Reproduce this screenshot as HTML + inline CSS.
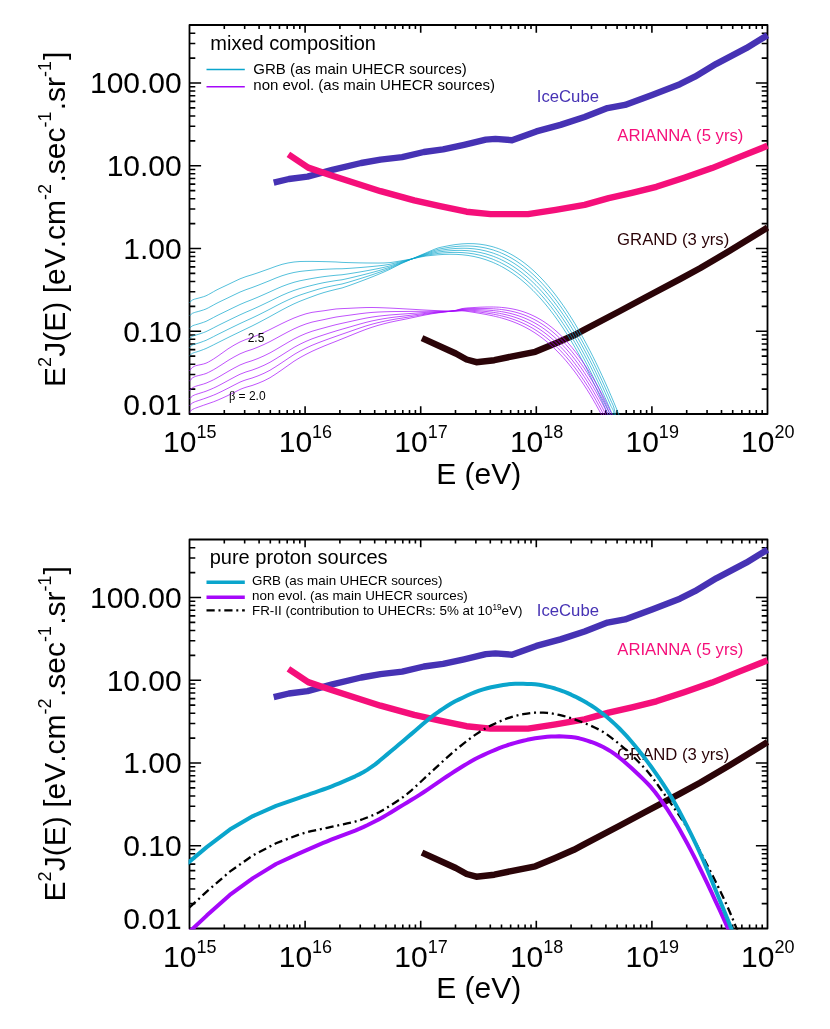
<!DOCTYPE html>
<html><head><meta charset="utf-8"><title>UHE neutrino fluxes</title>
<style>html,body{margin:0;padding:0;background:#fff}svg{display:block;will-change:transform}text{font-family:"Liberation Sans", sans-serif;font-kerning:none}</style>
</head><body>
<svg width="830" height="1029" viewBox="0 0 830 1029">
<rect width="830" height="1029" fill="#fff"/>
<defs><clipPath id="c1"><rect x="188.5" y="24" width="580" height="391"/></clipPath>
<clipPath id="c2"><rect x="188.5" y="538.5" width="580" height="391"/></clipPath></defs>
<path d="M224.3 414v-3.9M224.3 25v3.9M244.66 414v-3.9M244.66 25v3.9M259.1 414v-3.9M259.1 25v3.9M270.3 414v-3.9M270.3 25v3.9M279.45 414v-3.9M279.45 25v3.9M287.19 414v-3.9M287.19 25v3.9M293.9 414v-3.9M293.9 25v3.9M299.81 414v-3.9M299.81 25v3.9M305.1 414v-7.8M305.1 25v7.8M339.9 414v-3.9M339.9 25v3.9M360.26 414v-3.9M360.26 25v3.9M374.7 414v-3.9M374.7 25v3.9M385.9 414v-3.9M385.9 25v3.9M395.05 414v-3.9M395.05 25v3.9M402.79 414v-3.9M402.79 25v3.9M409.5 414v-3.9M409.5 25v3.9M415.41 414v-3.9M415.41 25v3.9M420.7 414v-7.8M420.7 25v7.8M455.5 414v-3.9M455.5 25v3.9M475.86 414v-3.9M475.86 25v3.9M490.3 414v-3.9M490.3 25v3.9M501.5 414v-3.9M501.5 25v3.9M510.65 414v-3.9M510.65 25v3.9M518.39 414v-3.9M518.39 25v3.9M525.1 414v-3.9M525.1 25v3.9M531.01 414v-3.9M531.01 25v3.9M536.3 414v-7.8M536.3 25v7.8M571.1 414v-3.9M571.1 25v3.9M591.46 414v-3.9M591.46 25v3.9M605.9 414v-3.9M605.9 25v3.9M617.1 414v-3.9M617.1 25v3.9M626.25 414v-3.9M626.25 25v3.9M633.99 414v-3.9M633.99 25v3.9M640.7 414v-3.9M640.7 25v3.9M646.61 414v-3.9M646.61 25v3.9M651.9 414v-7.8M651.9 25v7.8M686.7 414v-3.9M686.7 25v3.9M707.06 414v-3.9M707.06 25v3.9M721.5 414v-3.9M721.5 25v3.9M732.7 414v-3.9M732.7 25v3.9M741.85 414v-3.9M741.85 25v3.9M749.59 414v-3.9M749.59 25v3.9M756.3 414v-3.9M756.3 25v3.9M762.21 414v-3.9M762.21 25v3.9M189.5 389.09h5.8M767.5 389.09h-5.8M189.5 374.52h5.8M767.5 374.52h-5.8M189.5 364.18h5.8M767.5 364.18h-5.8M189.5 356.16h5.8M767.5 356.16h-5.8M189.5 349.61h5.8M767.5 349.61h-5.8M189.5 344.07h5.8M767.5 344.07h-5.8M189.5 339.27h5.8M767.5 339.27h-5.8M189.5 335.04h5.8M767.5 335.04h-5.8M189.5 331.25h11.6M767.5 331.25h-11.6M189.5 306.34h5.8M767.5 306.34h-5.8M189.5 291.77h5.8M767.5 291.77h-5.8M189.5 281.43h5.8M767.5 281.43h-5.8M189.5 273.41h5.8M767.5 273.41h-5.8M189.5 266.86h5.8M767.5 266.86h-5.8M189.5 261.32h5.8M767.5 261.32h-5.8M189.5 256.52h5.8M767.5 256.52h-5.8M189.5 252.29h5.8M767.5 252.29h-5.8M189.5 248.5h11.6M767.5 248.5h-11.6M189.5 223.59h5.8M767.5 223.59h-5.8M189.5 209.02h5.8M767.5 209.02h-5.8M189.5 198.68h5.8M767.5 198.68h-5.8M189.5 190.66h5.8M767.5 190.66h-5.8M189.5 184.11h5.8M767.5 184.11h-5.8M189.5 178.57h5.8M767.5 178.57h-5.8M189.5 173.77h5.8M767.5 173.77h-5.8M189.5 169.54h5.8M767.5 169.54h-5.8M189.5 165.75h11.6M767.5 165.75h-11.6M189.5 140.84h5.8M767.5 140.84h-5.8M189.5 126.27h5.8M767.5 126.27h-5.8M189.5 115.93h5.8M767.5 115.93h-5.8M189.5 107.91h5.8M767.5 107.91h-5.8M189.5 101.36h5.8M767.5 101.36h-5.8M189.5 95.82h5.8M767.5 95.82h-5.8M189.5 91.02h5.8M767.5 91.02h-5.8M189.5 86.79h5.8M767.5 86.79h-5.8M189.5 83h11.6M767.5 83h-11.6M189.5 58.09h5.8M767.5 58.09h-5.8M189.5 43.52h5.8M767.5 43.52h-5.8M189.5 33.18h5.8M767.5 33.18h-5.8" stroke="#000" stroke-width="1.6" fill="none"/>
<rect x="189.5" y="25" width="578" height="389" fill="none" stroke="#000" stroke-width="1.8" stroke-linejoin="round"/>
<text transform="translate(181.7 93.3) scale(1 1.0005)" text-anchor="end" font-size="30">100.00</text>
<text transform="translate(181.7 176.05) scale(1 1.0005)" text-anchor="end" font-size="30">10.00</text>
<text transform="translate(181.7 258.8) scale(1 1.0005)" text-anchor="end" font-size="30">1.00</text>
<text transform="translate(181.7 341.55) scale(1 1.0005)" text-anchor="end" font-size="30">0.10</text>
<text transform="translate(181.7 414.5) scale(1 1.0005)" text-anchor="end" font-size="30">0.01</text>
<text transform="translate(189.8 452.1) scale(1 1.0005)" text-anchor="middle" font-size="30">10<tspan font-size="18" dy="-14">15</tspan></text>
<text transform="translate(305.4 452.1) scale(1 1.0005)" text-anchor="middle" font-size="30">10<tspan font-size="18" dy="-14">16</tspan></text>
<text transform="translate(421 452.1) scale(1 1.0005)" text-anchor="middle" font-size="30">10<tspan font-size="18" dy="-14">17</tspan></text>
<text transform="translate(536.6 452.1) scale(1 1.0005)" text-anchor="middle" font-size="30">10<tspan font-size="18" dy="-14">18</tspan></text>
<text transform="translate(652.2 452.1) scale(1 1.0005)" text-anchor="middle" font-size="30">10<tspan font-size="18" dy="-14">19</tspan></text>
<text transform="translate(767.8 452.1) scale(1 1.0005)" text-anchor="middle" font-size="30">10<tspan font-size="18" dy="-14">20</tspan></text>
<text transform="translate(478.7 483.7) scale(1 1.0005)" text-anchor="middle" font-size="30">E (eV)</text>
<text transform="translate(64.8 387) rotate(-90) scale(1 1.0005)" font-size="30">E<tspan font-size="18" dy="-14">2</tspan><tspan dy="14" dx="0.3">J(E) [eV.cm</tspan><tspan font-size="18" dy="-14">-2</tspan><tspan dy="14" dx="1.5">.sec</tspan><tspan font-size="18" dy="-14">-1</tspan><tspan dy="14" dx="1.2">.sr</tspan><tspan font-size="18" dy="-14">-1</tspan><tspan dy="14" dx="1">]</tspan></text>
<path d="M273.7 182.6 L288.9 179 L307.5 176.6 L332.3 169.8 L361.2 163 L380.5 159.6 L402.2 157.1 L423.9 152 L443.1 149.4 L464.1 144.8 L485.8 139.6 L495.4 138.9 L512 140.2 L536.4 131.4 L560.5 124.9 L584.6 117 L607.5 108.1 L625 104.9 L652.1 94.9 L679.9 84.2 L694.9 76.7 L716.3 63.8 L746.2 48.2 L767.5 35.2" stroke="#4632b4" stroke-width="6.4" fill="none" stroke-linejoin="round"/>
<path d="M288.4 154.4 L308.2 167.6 L332.3 175.8 L356.4 183.5 L380.5 191.2 L414.2 200.4 L440 206.1 L466.5 211.7 L490.6 214.1 L528 214.1 L555.7 209.8 L584.6 204.9 L608.7 198.2 L632 192.8 L656.4 186.8 L684.2 177.7 L712 168.1 L739.8 156.9 L767.5 145.8" stroke="#f50f7a" stroke-width="6.4" fill="none" stroke-linejoin="round"/>
<path d="M422 338.1 L455.8 353.5 L466.6 359.5 L476.3 362.2 L494.3 360.2 L511.2 356.6 L535.3 351.8 L554.6 343.8 L573.9 335.3 L583.6 330.2 L620 311 L644.3 298 L680 279.1 L700 268.3 L729.7 250.8 L767.5 227.6" stroke="#2b0408" stroke-width="6.4" fill="none" stroke-linejoin="round"/>
<g clip-path="url(#c1)">
<path d="M189.5 302.6 C189.75 302.35 190.48 301.57 191 301.12 C191.52 300.67 192.02 300.22 192.6 299.9 C193.18 299.58 193.77 299.41 194.5 299.18 C195.23 298.95 195.92 298.79 197 298.5 C198.08 298.21 199.5 297.9 201 297.45 C202.5 297 204.33 296.52 206 295.8 C207.67 295.08 209.33 294.06 211 293.15 C212.67 292.24 214.17 291.27 216 290.31 C217.83 289.35 220 288.33 222 287.37 C224 286.41 226 285.52 228 284.56 C230 283.61 232 282.61 234 281.66 C236 280.7 238 279.68 240 278.83 C242 277.99 244 277.26 246 276.58 C248 275.91 250 275.4 252 274.76 C254 274.12 256 273.45 258 272.77 C260 272.08 262 271.34 264 270.63 C266 269.92 268 269.23 270 268.5 C272 267.78 274 266.98 276 266.29 C278 265.6 280 264.91 282 264.35 C284 263.8 286 263.36 288 262.97 C290 262.58 292 262.25 294 262.01 C296 261.76 298 261.6 300 261.5 C302 261.4 304 261.43 306 261.41 C308 261.39 310 261.38 312 261.4 C314 261.41 316 261.45 318 261.49 C320 261.52 322 261.57 324 261.62 C326 261.67 328 261.72 330 261.78 C332 261.84 334 261.88 336 261.98 C338 262.08 340 262.27 342 262.38 C344 262.48 346 262.53 348 262.59 C350 262.65 352 262.7 354 262.74 C356 262.79 358 262.84 360 262.88 C362 262.91 364 262.95 366 262.97 C368 263 370 263.01 372 263.02 C374 263.04 376 263.06 378 263.05 C380 263.04 382 263.04 384 262.97 C386 262.9 388 262.83 390 262.62 C392 262.41 394 262.04 396 261.72 C398 261.4 400 261.02 402 260.67 C404 260.33 406 260.01 408 259.65 C410 259.28 412 258.91 414 258.48 C416 258.06 418 257.52 420 257.11 C422 256.7 424 256.31 426 256.02 C428 255.73 430 255.57 432 255.36 C434 255.16 436 254.95 438 254.79 C440 254.64 442 254.51 444 254.42 C446 254.33 448 254.27 450 254.25 C452 254.24 454 254.27 456 254.35 C458 254.43 460 254.56 462 254.74 C464 254.92 466 255.15 468 255.45 C470 255.74 472 256.09 474 256.5 C476 256.92 478 257.39 480 257.93 C482 258.48 484 259.08 486 259.76 C488 260.44 490 261.19 492 262.01 C494 262.84 496.67 264.1 498 264.71 C499.33 265.33 499.17 265.28 500 265.72 C500.83 266.15 502 266.77 503 267.32 C504 267.88 505 268.45 506 269.05 C507 269.65 508 270.26 509 270.9 C510 271.54 511 272.2 512 272.88 C513 273.56 514 274.26 515 274.99 C516 275.71 517 276.46 518 277.23 C519 278 520 278.79 521 279.6 C522 280.41 523 281.25 524 282.11 C525 282.97 526 283.85 527 284.76 C528 285.66 529 286.59 530 287.55 C531 288.5 532 289.48 533 290.48 C534 291.48 535 292.5 536 293.55 C537 294.6 538 295.68 539 296.78 C540 297.87 541 299 542 300.15 C543 301.29 544 302.47 545 303.67 C546 304.86 547 306.09 548 307.34 C549 308.59 550 309.86 551 311.16 C552 312.46 553 313.79 554 315.14 C555 316.49 556 317.87 557 319.28 C558 320.68 559 322.11 560 323.57 C561 325.03 562 326.51 563 328.02 C564 329.53 565 331.07 566 332.64 C567 334.2 568 335.79 569 337.41 C570 339.03 571 340.67 572 342.35 C573 344.02 574 345.72 575 347.45 C576 349.17 577 350.93 578 352.71 C579 354.49 580 356.3 581 358.14 C582 359.98 583 361.84 584 363.74 C585 365.63 586 367.55 587 369.5 C588 371.45 589 373.43 590 375.43 C591 377.44 592 379.47 593 381.53 C594 383.59 595 385.68 596 387.8 C597 389.92 598 392.06 599 394.24 C600 396.41 601 398.62 602 400.85 C603 403.08 604 405.34 605 407.63 C606 409.91 607 412.23 608 414.58 C609 416.92 610 419.29 611 421.7 C612 424.1 613.5 427.78 614 429" stroke="#0aa5cc" stroke-width="0.7" fill="none"/>
<path d="M189.5 315.88 C189.75 315.63 190.48 314.87 191 314.43 C191.52 313.99 192.02 313.54 192.6 313.22 C193.18 312.91 193.77 312.75 194.5 312.52 C195.23 312.29 195.92 312.13 197 311.82 C198.08 311.52 199.5 311.17 201 310.7 C202.5 310.22 204.33 309.69 206 308.98 C207.67 308.26 209.33 307.28 211 306.39 C212.67 305.5 214.17 304.59 216 303.63 C217.83 302.68 220 301.65 222 300.68 C224 299.71 226 298.78 228 297.82 C230 296.86 232 295.87 234 294.91 C236 293.95 238 292.94 240 292.07 C242 291.19 244 290.41 246 289.66 C248 288.91 250 288.29 252 287.57 C254 286.84 256 286.09 258 285.31 C260 284.54 262 283.72 264 282.92 C266 282.12 268 281.33 270 280.51 C272 279.69 274 278.81 276 278.01 C278 277.22 280 276.42 282 275.74 C284 275.06 286 274.47 288 273.92 C290 273.38 292 272.88 294 272.46 C296 272.05 298 271.71 300 271.43 C302 271.15 304 270.98 306 270.78 C308 270.57 310 270.38 312 270.21 C314 270.03 316 269.87 318 269.73 C320 269.58 322 269.45 324 269.34 C326 269.23 328 269.14 330 269.05 C332 268.96 334 268.87 336 268.82 C338 268.77 340 268.84 342 268.77 C344 268.71 346 268.56 348 268.43 C350 268.3 352 268.15 354 268.01 C356 267.86 358 267.71 360 267.55 C362 267.39 364 267.23 366 267.06 C368 266.88 370 266.7 372 266.51 C374 266.32 376 266.13 378 265.91 C380 265.7 382 265.49 384 265.22 C386 264.95 388 264.68 390 264.29 C392 263.89 394 263.34 396 262.84 C398 262.35 400 261.82 402 261.32 C404 260.83 406 260.38 408 259.89 C410 259.4 412 258.91 414 258.39 C416 257.87 418 257.28 420 256.78 C422 256.28 424 255.8 426 255.39 C428 254.99 430 254.68 432 254.35 C434 254.02 436 253.68 438 253.43 C440 253.18 442 253.02 444 252.86 C446 252.71 448 252.57 450 252.49 C452 252.41 454 252.37 456 252.38 C458 252.39 460 252.45 462 252.57 C464 252.68 466 252.85 468 253.08 C470 253.31 472 253.59 474 253.94 C476 254.29 478 254.71 480 255.19 C482 255.67 484 256.22 486 256.84 C488 257.46 490 258.15 492 258.92 C494 259.69 496.67 260.88 498 261.46 C499.33 262.04 499.17 262 500 262.41 C500.83 262.82 502 263.41 503 263.94 C504 264.47 505 265.02 506 265.59 C507 266.16 508 266.75 509 267.37 C510 267.98 511 268.62 512 269.27 C513 269.93 514 270.61 515 271.31 C516 272.01 517 272.73 518 273.48 C519 274.23 520 275 521 275.79 C522 276.58 523 277.4 524 278.23 C525 279.07 526 279.93 527 280.82 C528 281.7 529 282.61 530 283.55 C531 284.48 532 285.44 533 286.42 C534 287.4 535 288.41 536 289.44 C537 290.47 538 291.52 539 292.6 C540 293.68 541 294.79 542 295.92 C543 297.05 544 298.21 545 299.39 C546 300.57 547 301.78 548 303.01 C549 304.24 550 305.5 551 306.78 C552 308.07 553 309.38 554 310.72 C555 312.05 556 313.42 557 314.81 C558 316.19 559 317.61 560 319.05 C561 320.5 562 321.97 563 323.46 C564 324.96 565 326.48 566 328.03 C567 329.58 568 331.16 569 332.76 C570 334.37 571 336 572 337.66 C573 339.32 574 341 575 342.72 C576 344.43 577 346.17 578 347.94 C579 349.71 580 351.51 581 353.33 C582 355.16 583 357.01 584 358.89 C585 360.77 586 362.68 587 364.62 C588 366.55 589 368.52 590 370.51 C591 372.5 592 374.52 593 376.57 C594 378.62 595 380.7 596 382.8 C597 384.91 598 387.04 599 389.2 C600 391.36 601 393.55 602 395.77 C603 397.99 604 400.24 605 402.51 C606 404.78 607 407.09 608 409.42 C609 411.75 610 414.11 611 416.5 C612 418.89 613 416.84 614 423.75 C615 430.67 616.5 452.3 617 458.01" stroke="#0aa5cc" stroke-width="0.7" fill="none"/>
<path d="M189.5 328.35 C189.75 328.12 190.48 327.37 191 326.93 C191.52 326.5 192.02 326.06 192.6 325.75 C193.18 325.44 193.77 325.29 194.5 325.06 C195.23 324.82 195.92 324.67 197 324.35 C198.08 324.03 199.5 323.64 201 323.15 C202.5 322.65 204.33 322.08 206 321.36 C207.67 320.64 209.33 319.71 211 318.84 C212.67 317.98 214.17 317.1 216 316.16 C217.83 315.21 220 314.16 222 313.19 C224 312.21 226 311.25 228 310.28 C230 309.31 232 308.33 234 307.37 C236 306.4 238 305.41 240 304.51 C242 303.6 244 302.76 246 301.95 C248 301.13 250 300.42 252 299.61 C254 298.8 256 297.97 258 297.11 C260 296.25 262 295.35 264 294.47 C266 293.58 268 292.7 270 291.8 C272 290.89 274 289.93 276 289.04 C278 288.14 280 287.25 282 286.45 C284 285.64 286 284.91 288 284.22 C290 283.52 292 282.87 294 282.29 C296 281.71 298 281.21 300 280.76 C302 280.31 304 279.96 306 279.58 C308 279.2 310 278.83 312 278.48 C314 278.13 316 277.79 318 277.47 C320 277.16 322 276.86 324 276.6 C326 276.33 328 276.11 330 275.89 C332 275.66 334 275.44 336 275.26 C338 275.07 340 275.01 342 274.78 C344 274.56 346 274.23 348 273.92 C350 273.62 352 273.28 354 272.95 C356 272.62 358 272.29 360 271.94 C362 271.6 364 271.25 366 270.89 C368 270.53 370 270.16 372 269.78 C374 269.4 376 269.02 378 268.61 C380 268.2 382 267.8 384 267.34 C386 266.88 388 266.42 390 265.85 C392 265.28 394 264.55 396 263.9 C398 263.25 400 262.56 402 261.94 C404 261.31 406 260.73 408 260.12 C410 259.52 412 258.92 414 258.3 C416 257.69 418 257.04 420 256.45 C422 255.86 424 255.28 426 254.77 C428 254.25 430 253.79 432 253.34 C434 252.89 436 252.4 438 252.06 C440 251.73 442 251.53 444 251.31 C446 251.08 448 250.87 450 250.72 C452 250.57 454 250.46 456 250.41 C458 250.35 460 250.34 462 250.39 C464 250.44 466 250.54 468 250.71 C470 250.87 472 251.09 474 251.38 C476 251.67 478 252.02 480 252.44 C482 252.87 484 253.35 486 253.92 C488 254.48 490 255.12 492 255.83 C494 256.54 496.67 257.66 498 258.2 C499.33 258.75 499.17 258.71 500 259.1 C500.83 259.49 502 260.05 503 260.55 C504 261.06 505 261.58 506 262.13 C507 262.67 508 263.24 509 263.83 C510 264.42 511 265.03 512 265.67 C513 266.3 514 266.95 515 267.63 C516 268.31 517 269.01 518 269.74 C519 270.46 520 271.21 521 271.98 C522 272.75 523 273.54 524 274.36 C525 275.17 526 276.02 527 276.88 C528 277.75 529 278.63 530 279.55 C531 280.46 532 281.4 533 282.36 C534 283.32 535 284.31 536 285.32 C537 286.33 538 287.37 539 288.43 C540 289.5 541 290.58 542 291.7 C543 292.81 544 293.95 545 295.11 C546 296.28 547 297.47 548 298.68 C549 299.9 550 301.14 551 302.41 C552 303.68 553 304.97 554 306.29 C555 307.61 556 308.96 557 310.33 C558 311.71 559 313.11 560 314.54 C561 315.96 562 317.42 563 318.9 C564 320.38 565 321.89 566 323.43 C567 324.96 568 326.53 569 328.12 C570 329.71 571 331.32 572 332.97 C573 334.62 574 336.29 575 337.99 C576 339.69 577 341.42 578 343.17 C579 344.93 580 346.71 581 348.53 C582 350.34 583 352.18 584 354.04 C585 355.91 586 357.81 587 359.73 C588 361.66 589 363.61 590 365.59 C591 367.57 592 369.57 593 371.61 C594 373.65 595 375.71 596 377.8 C597 379.89 598 382.01 599 384.16 C600 386.31 601 388.49 602 390.69 C603 392.9 604 395.13 605 397.39 C606 399.65 607 401.94 608 404.26 C609 406.58 610 408.93 611 411.3 C612 413.68 613 412.73 614 418.51 C615 424.3 616.5 441.43 617 446.01" stroke="#0aa5cc" stroke-width="0.7" fill="none"/>
<path d="M189.5 338.71 C189.75 338.48 190.48 337.74 191 337.31 C191.52 336.88 192.02 336.45 192.6 336.14 C193.18 335.84 193.77 335.69 194.5 335.46 C195.23 335.23 195.92 335.07 197 334.74 C198.08 334.41 199.5 333.99 201 333.48 C202.5 332.96 204.33 332.35 206 331.64 C207.67 330.92 209.33 330.02 211 329.17 C212.67 328.32 214.17 327.48 216 326.55 C217.83 325.61 220 324.55 222 323.56 C224 322.58 226 321.6 228 320.62 C230 319.65 232 318.67 234 317.7 C236 316.73 238 315.75 240 314.83 C242 313.9 244 313.02 246 312.15 C248 311.28 250 310.47 252 309.6 C254 308.72 256 307.82 258 306.9 C260 305.97 262 305.01 264 304.05 C266 303.1 268 302.14 270 301.17 C272 300.19 274 299.15 276 298.18 C278 297.21 280 296.23 282 295.33 C284 294.43 286 293.57 288 292.76 C290 291.95 292 291.15 294 290.44 C296 289.73 298 289.1 300 288.5 C302 287.91 304 287.41 306 286.89 C308 286.36 310 285.85 312 285.35 C314 284.86 316 284.36 318 283.9 C320 283.45 322 283.01 324 282.62 C326 282.23 328 281.9 330 281.56 C332 281.22 334 280.89 336 280.59 C338 280.3 340 280.13 342 279.77 C344 279.42 346 278.93 348 278.48 C350 278.03 352 277.54 354 277.06 C356 276.58 358 276.09 360 275.59 C362 275.09 364 274.59 366 274.08 C368 273.56 370 273.04 372 272.5 C374 271.96 376 271.41 378 270.85 C380 270.28 382 269.71 384 269.09 C386 268.48 388 267.87 390 267.15 C392 266.43 394 265.56 396 264.78 C398 263.99 400 263.19 402 262.44 C404 261.7 406 261.02 408 260.32 C410 259.61 412 258.91 414 258.21 C416 257.51 418 256.79 420 256.11 C422 255.44 424 254.77 426 254.14 C428 253.51 430 252.9 432 252.32 C434 251.75 436 251.13 438 250.7 C440 250.27 442 250.04 444 249.75 C446 249.46 448 249.18 450 248.96 C452 248.74 454 248.56 456 248.44 C458 248.31 460 248.24 462 248.22 C464 248.2 466 248.24 468 248.34 C470 248.44 472 248.6 474 248.82 C476 249.05 478 249.34 480 249.7 C482 250.06 484 250.49 486 251 C488 251.5 490 252.08 492 252.74 C494 253.4 496.67 254.44 498 254.95 C499.33 255.46 499.17 255.42 500 255.79 C500.83 256.16 502 256.69 503 257.17 C504 257.64 505 258.14 506 258.67 C507 259.19 508 259.73 509 260.3 C510 260.86 511 261.45 512 262.06 C513 262.67 514 263.3 515 263.96 C516 264.61 517 265.29 518 265.99 C519 266.69 520 267.42 521 268.16 C522 268.91 523 269.69 524 270.48 C525 271.28 526 272.1 527 272.94 C528 273.79 529 274.65 530 275.55 C531 276.44 532 277.36 533 278.3 C534 279.25 535 280.21 536 281.21 C537 282.2 538 283.22 539 284.26 C540 285.31 541 286.38 542 287.47 C543 288.57 544 289.69 545 290.83 C546 291.98 547 293.15 548 294.35 C549 295.55 550 296.78 551 298.03 C552 299.28 553 300.56 554 301.87 C555 303.17 556 304.5 557 305.86 C558 307.22 559 308.61 560 310.02 C561 311.43 562 312.87 563 314.34 C564 315.81 565 317.3 566 318.82 C567 320.34 568 321.89 569 323.47 C570 325.05 571 326.65 572 328.28 C573 329.91 574 331.57 575 333.26 C576 334.95 577 336.66 578 338.41 C579 340.15 580 341.92 581 343.72 C582 345.52 583 347.34 584 349.2 C585 351.05 586 352.94 587 354.85 C588 356.76 589 358.7 590 360.66 C591 362.63 592 364.63 593 366.65 C594 368.67 595 370.72 596 372.8 C597 374.88 598 376.99 599 379.13 C600 381.26 601 383.42 602 385.62 C603 387.81 604 390.03 605 392.28 C606 394.52 607 396.8 608 399.11 C609 401.41 610 403.74 611 406.1 C612 408.46 613 408.62 614 413.27 C615 417.92 616.5 430.56 617 434.02" stroke="#0aa5cc" stroke-width="0.7" fill="none"/>
<path d="M189.5 347.47 C189.75 347.24 190.48 346.51 191 346.09 C191.52 345.67 192.02 345.24 192.6 344.94 C193.18 344.63 193.77 344.5 194.5 344.26 C195.23 344.03 195.92 343.88 197 343.54 C198.08 343.2 199.5 342.75 201 342.22 C202.5 341.68 204.33 341.05 206 340.33 C207.67 339.61 209.33 338.75 211 337.91 C212.67 337.08 214.17 336.27 216 335.34 C217.83 334.41 220 333.34 222 332.35 C224 331.35 226 330.36 228 329.37 C230 328.39 232 327.41 234 326.45 C236 325.48 238 324.51 240 323.56 C242 322.62 244 321.69 246 320.78 C248 319.86 250 318.99 252 318.05 C254 317.12 256 316.16 258 315.18 C260 314.2 262 313.18 264 312.16 C266 311.15 268 310.13 270 309.09 C272 308.05 274 306.96 276 305.92 C278 304.88 280 303.83 282 302.84 C284 301.86 286 300.9 288 299.99 C290 299.07 292 298.17 294 297.34 C296 296.52 298 295.77 300 295.05 C302 294.34 304 293.72 306 293.07 C308 292.42 310 291.79 312 291.17 C314 290.55 316 289.92 318 289.34 C320 288.77 322 288.21 324 287.71 C326 287.22 328 286.79 330 286.36 C332 285.93 334 285.51 336 285.11 C338 284.72 340 284.46 342 283.99 C344 283.53 346 282.91 348 282.33 C350 281.76 352 281.14 354 280.53 C356 279.92 358 279.3 360 278.68 C362 278.05 364 277.42 366 276.77 C368 276.13 370 275.47 372 274.8 C374 274.13 376 273.44 378 272.74 C380 272.04 382 271.33 384 270.58 C386 269.83 388 269.09 390 268.25 C392 267.4 394 266.41 396 265.52 C398 264.62 400 263.71 402 262.87 C404 262.03 406 261.27 408 260.48 C410 259.69 412 258.9 414 258.12 C416 257.34 418 256.55 420 255.78 C422 255.02 424 254.26 426 253.51 C428 252.76 430 252.01 432 251.31 C434 250.61 436 249.85 438 249.34 C440 248.82 442 248.55 444 248.19 C446 247.84 448 247.48 450 247.19 C452 246.9 454 246.66 456 246.47 C458 246.28 460 246.13 462 246.05 C464 245.97 466 245.94 468 245.97 C470 246.01 472 246.1 474 246.26 C476 246.43 478 246.65 480 246.96 C482 247.26 484 247.63 486 248.07 C488 248.52 490 249.04 492 249.65 C494 250.25 496.67 251.22 498 251.69 C499.33 252.17 499.17 252.14 500 252.49 C500.83 252.83 502 253.33 503 253.78 C504 254.23 505 254.71 506 255.2 C507 255.7 508 256.22 509 256.76 C510 257.3 511 257.86 512 258.45 C513 259.04 514 259.65 515 260.28 C516 260.91 517 261.57 518 262.24 C519 262.92 520 263.63 521 264.35 C522 265.08 523 265.83 524 266.61 C525 267.38 526 268.18 527 269 C528 269.83 529 270.68 530 271.55 C531 272.42 532 273.32 533 274.24 C534 275.17 535 276.12 536 277.09 C537 278.07 538 279.07 539 280.09 C540 281.12 541 282.17 542 283.25 C543 284.32 544 285.43 545 286.56 C546 287.69 547 288.84 548 290.03 C549 291.21 550 292.42 551 293.65 C552 294.89 553 296.15 554 297.44 C555 298.73 556 300.05 557 301.39 C558 302.73 559 304.1 560 305.5 C561 306.9 562 308.33 563 309.78 C564 311.23 565 312.71 566 314.22 C567 315.73 568 317.26 569 318.82 C570 320.39 571 321.98 572 323.6 C573 325.21 574 326.86 575 328.53 C576 330.21 577 331.91 578 333.64 C579 335.37 580 337.13 581 338.91 C582 340.7 583 342.51 584 344.35 C585 346.2 586 348.06 587 349.96 C588 351.86 589 353.79 590 355.74 C591 357.7 592 359.68 593 361.69 C594 363.7 595 365.74 596 367.8 C597 369.87 598 371.96 599 374.09 C600 376.21 601 378.36 602 380.54 C603 382.72 604 384.93 605 387.16 C606 389.39 607 391.66 608 393.95 C609 396.24 610 398.56 611 400.9 C612 403.25 613 404.51 614 408.03 C615 411.55 616 418.71 617 422.03 C618 425.35 619.5 426.97 620 427.95" stroke="#0aa5cc" stroke-width="0.7" fill="none"/>
<path d="M189.5 355.7 C189.75 355.47 190.48 354.76 191 354.34 C191.52 353.92 192.02 353.5 192.6 353.2 C193.18 352.9 193.77 352.77 194.5 352.53 C195.23 352.3 195.92 352.15 197 351.8 C198.08 351.45 199.5 350.98 201 350.43 C202.5 349.88 204.33 349.22 206 348.5 C207.67 347.78 209.33 346.94 211 346.13 C212.67 345.31 214.17 344.52 216 343.6 C217.83 342.68 220 341.6 222 340.6 C224 339.6 226 338.58 228 337.59 C230 336.6 232 335.63 234 334.66 C236 333.69 238 332.73 240 331.77 C242 330.8 244 329.84 246 328.88 C248 327.92 250 326.98 252 326 C254 325.01 256 323.99 258 322.96 C260 321.92 262 320.85 264 319.78 C266 318.71 268 317.64 270 316.54 C272 315.44 274 314.29 276 313.19 C278 312.08 280 310.97 282 309.91 C284 308.84 286 307.79 288 306.78 C290 305.76 292 304.75 294 303.83 C296 302.9 298 302.03 300 301.21 C302 300.38 304 299.64 306 298.88 C308 298.11 310 297.36 312 296.63 C314 295.89 316 295.14 318 294.45 C320 293.76 322 293.09 324 292.5 C326 291.9 328 291.39 330 290.87 C332 290.35 334 289.84 336 289.36 C338 288.87 340 288.53 342 287.96 C344 287.39 346 286.65 348 285.96 C350 285.26 352 284.52 354 283.79 C356 283.06 358 282.32 360 281.57 C362 280.83 364 280.07 366 279.31 C368 278.54 370 277.76 372 276.96 C374 276.16 376 275.35 378 274.52 C380 273.69 382 272.85 384 271.97 C386 271.1 388 270.24 390 269.28 C392 268.32 394 267.21 396 266.21 C398 265.21 400 264.2 402 263.27 C404 262.34 406 261.5 408 260.63 C410 259.76 412 258.89 414 258.03 C416 257.17 418 256.31 420 255.45 C422 254.6 424 253.74 426 252.88 C428 252.02 430 251.11 432 250.3 C434 249.48 436 248.58 438 247.97 C440 247.36 442 247.06 444 246.64 C446 246.22 448 245.78 450 245.43 C452 245.07 454 244.75 456 244.49 C458 244.24 460 244.02 462 243.88 C464 243.73 466 243.63 468 243.6 C470 243.57 472 243.6 474 243.7 C476 243.81 478 243.97 480 244.21 C482 244.45 484 244.76 486 245.15 C488 245.54 490 246.01 492 246.55 C494 247.1 496.67 248 498 248.44 C499.33 248.87 499.17 248.85 500 249.18 C500.83 249.5 502 249.97 503 250.39 C504 250.82 505 251.27 506 251.74 C507 252.21 508 252.71 509 253.22 C510 253.74 511 254.28 512 254.84 C513 255.41 514 255.99 515 256.6 C516 257.21 517 257.84 518 258.5 C519 259.16 520 259.84 521 260.54 C522 261.25 523 261.98 524 262.73 C525 263.48 526 264.26 527 265.06 C528 265.87 529 266.7 530 267.55 C531 268.4 532 269.28 533 270.19 C534 271.09 535 272.02 536 272.98 C537 273.93 538 274.91 539 275.92 C540 276.93 541 277.96 542 279.02 C543 280.08 544 281.17 545 282.28 C546 283.39 547 284.53 548 285.7 C549 286.86 550 288.06 551 289.28 C552 290.5 553 291.74 554 293.02 C555 294.29 556 295.59 557 296.92 C558 298.25 559 299.6 560 300.99 C561 302.37 562 303.78 563 305.22 C564 306.66 565 308.12 566 309.61 C567 311.11 568 312.63 569 314.18 C570 315.73 571 317.3 572 318.91 C573 320.51 574 322.15 575 323.81 C576 325.47 577 327.15 578 328.87 C579 330.59 580 332.33 581 334.11 C582 335.88 583 337.68 584 339.51 C585 341.34 586 343.19 587 345.08 C588 346.96 589 348.88 590 350.82 C591 352.76 592 354.73 593 356.73 C594 358.72 595 360.75 596 362.8 C597 364.86 598 366.94 599 369.05 C600 371.16 601 373.3 602 375.46 C603 377.63 604 379.82 605 382.04 C606 384.27 607 386.51 608 388.79 C609 391.07 610 393.37 611 395.71 C612 398.04 613 400.4 614 402.79 C615 405.17 616 407.59 617 410.03 C618 412.48 619 414.94 620 417.44 C621 419.94 622.5 423.76 623 425.02" stroke="#0aa5cc" stroke-width="0.7" fill="none"/>
<path d="M189.5 370.9 C189.75 370.57 190.48 369.54 191 368.94 C191.52 368.34 192.02 367.75 192.6 367.3 C193.18 366.85 193.77 366.55 194.5 366.23 C195.23 365.92 195.92 365.67 197 365.4 C198.08 365.13 199.5 364.96 201 364.59 C202.5 364.22 204.33 363.87 206 363.2 C207.67 362.53 209.33 361.53 211 360.56 C212.67 359.6 214.17 358.62 216 357.39 C217.83 356.16 220 354.59 222 353.17 C224 351.75 226 350.21 228 348.88 C230 347.55 232 346.34 234 345.19 C236 344.03 238 342.91 240 341.95 C242 340.99 244 340.17 246 339.41 C248 338.65 250 338.14 252 337.42 C254 336.69 256 335.89 258 335.04 C260 334.2 262 333.28 264 332.36 C266 331.44 268 330.5 270 329.53 C272 328.55 274 327.5 276 326.49 C278 325.49 280 324.47 282 323.5 C284 322.52 286 321.57 288 320.66 C290 319.75 292 318.84 294 318.02 C296 317.2 298 316.44 300 315.74 C302 315.03 304 314.35 306 313.79 C308 313.23 310 312.74 312 312.37 C314 311.99 316 311.8 318 311.53 C320 311.26 322 311.04 324 310.75 C326 310.47 328 310.12 330 309.82 C332 309.52 334 309.17 336 308.97 C338 308.77 340 308.71 342 308.6 C344 308.5 346 308.45 348 308.36 C350 308.26 352 308.15 354 308.05 C356 307.95 358 307.85 360 307.77 C362 307.68 364 307.6 366 307.55 C368 307.51 370 307.48 372 307.49 C374 307.5 376 307.55 378 307.61 C380 307.67 382 307.76 384 307.84 C386 307.92 388 308 390 308.09 C392 308.18 394 308.28 396 308.38 C398 308.49 400 308.61 402 308.72 C404 308.83 406 308.94 408 309.05 C410 309.16 412 309.28 414 309.39 C416 309.51 418 309.63 420 309.75 C422 309.86 424 309.98 426 310.09 C428 310.2 430 310.3 432 310.4 C434 310.5 436 310.61 438 310.7 C440 310.8 442 310.9 444 310.98 C446 311.06 448 311.15 450 311.18 C452 311.21 454 311.2 456 311.15 C458 311.1 460 310.82 462 310.87 C464 310.93 466 311.22 468 311.47 C470 311.73 472 312.1 474 312.42 C476 312.74 478 313.06 480 313.4 C482 313.74 484 314.08 486 314.46 C488 314.84 490 315.23 492 315.66 C494 316.1 496.67 316.74 498 317.06 C499.33 317.38 499.17 317.35 500 317.58 C500.83 317.8 502 318.12 503 318.41 C504 318.7 505 319 506 319.32 C507 319.63 508 319.96 509 320.3 C510 320.64 511 321 512 321.37 C513 321.74 514 322.13 515 322.53 C516 322.93 517 323.35 518 323.78 C519 324.21 520 324.66 521 325.13 C522 325.6 523 326.09 524 326.59 C525 327.1 526 327.62 527 328.16 C528 328.71 529 329.27 530 329.85 C531 330.43 532 331.03 533 331.66 C534 332.28 535 332.93 536 333.59 C537 334.26 538 334.94 539 335.66 C540 336.37 541 337.1 542 337.85 C543 338.61 544 339.39 545 340.19 C546 341 547 341.82 548 342.67 C549 343.52 550 344.4 551 345.3 C552 346.2 553 347.13 554 348.08 C555 349.03 556 350.01 557 351.02 C558 352.02 559 353.05 560 354.11 C561 355.17 562 356.25 563 357.36 C564 358.48 565 359.61 566 360.78 C567 361.95 568 363.15 569 364.37 C570 365.6 571 366.85 572 368.13 C573 369.41 574 370.72 575 372.06 C576 373.41 577 374.78 578 376.18 C579 377.58 580 379.01 581 380.47 C582 381.93 583 383.42 584 384.94 C585 386.46 586 388.01 587 389.6 C588 391.18 589 392.79 590 394.44 C591 396.08 592 397.76 593 399.47 C594 401.18 595 402.92 596 404.69 C597 406.47 598 408.27 599 410.11 C600 411.94 601 413.81 602 415.72 C603 417.62 604 419.55 605 421.52 C606 423.49 607.5 426.52 608 427.52" stroke="#a508fa" stroke-width="0.7" fill="none"/>
<path d="M189.5 381.17 C189.75 380.87 190.48 379.91 191 379.35 C191.52 378.8 192.02 378.25 192.6 377.82 C193.18 377.4 193.77 377.12 194.5 376.8 C195.23 376.49 195.92 376.25 197 375.95 C198.08 375.65 199.5 375.39 201 374.98 C202.5 374.57 204.33 374.15 206 373.5 C207.67 372.85 209.33 371.97 211 371.09 C212.67 370.22 214.17 369.36 216 368.25 C217.83 367.14 220 365.73 222 364.44 C224 363.15 226 361.76 228 360.53 C230 359.29 232 358.12 234 357.01 C236 355.89 238 354.77 240 353.83 C242 352.89 244 352.1 246 351.37 C248 350.63 250 350.15 252 349.44 C254 348.73 256 347.95 258 347.12 C260 346.29 262 345.39 264 344.47 C266 343.54 268 342.59 270 341.57 C272 340.55 274 339.42 276 338.33 C278 337.25 280 336.13 282 335.06 C284 333.98 286 332.9 288 331.87 C290 330.83 292 329.77 294 328.83 C296 327.88 298 327.02 300 326.2 C302 325.38 304 324.61 306 323.93 C308 323.24 310 322.63 312 322.11 C314 321.59 316 321.23 318 320.81 C320 320.39 322 320 324 319.58 C326 319.16 328 318.7 330 318.28 C332 317.86 334 317.41 336 317.06 C338 316.71 340 316.46 342 316.18 C344 315.9 346 315.66 348 315.39 C350 315.12 352 314.82 354 314.55 C356 314.27 358 313.99 360 313.73 C362 313.48 364 313.21 366 313 C368 312.78 370 312.59 372 312.43 C374 312.27 376 312.16 378 312.06 C380 311.96 382 311.89 384 311.82 C386 311.75 388 311.68 390 311.64 C392 311.59 394 311.56 396 311.53 C398 311.51 400 311.51 402 311.49 C404 311.48 406 311.46 408 311.44 C410 311.42 412 311.4 414 311.38 C416 311.36 418 311.34 420 311.32 C422 311.31 424 311.29 426 311.28 C428 311.26 430 311.25 432 311.24 C434 311.24 436 311.25 438 311.25 C440 311.25 442 311.27 444 311.26 C446 311.26 448 311.27 450 311.22 C452 311.17 454 311.1 456 310.97 C458 310.83 460 310.46 462 310.42 C464 310.39 466 310.59 468 310.76 C470 310.93 472 311.21 474 311.44 C476 311.67 478 311.9 480 312.16 C482 312.41 484 312.67 486 312.97 C488 313.26 490 313.57 492 313.92 C494 314.28 496.67 314.82 498 315.08 C499.33 315.35 499.17 315.33 500 315.52 C500.83 315.71 502 315.99 503 316.24 C504 316.49 505 316.75 506 317.03 C507 317.31 508 317.6 509 317.9 C510 318.21 511 318.53 512 318.86 C513 319.2 514 319.54 515 319.91 C516 320.28 517 320.66 518 321.06 C519 321.46 520 321.87 521 322.31 C522 322.74 523 323.2 524 323.67 C525 324.14 526 324.63 527 325.14 C528 325.65 529 326.18 530 326.73 C531 327.28 532 327.85 533 328.45 C534 329.04 535 329.65 536 330.29 C537 330.93 538 331.59 539 332.27 C540 332.95 541 333.66 542 334.38 C543 335.11 544 335.87 545 336.64 C546 337.42 547 338.22 548 339.05 C549 339.87 550 340.72 551 341.6 C552 342.48 553 343.38 554 344.31 C555 345.24 556 346.2 557 347.18 C558 348.16 559 349.17 560 350.21 C561 351.25 562 352.31 563 353.4 C564 354.5 565 355.62 566 356.77 C567 357.92 568 359.1 569 360.31 C570 361.52 571 362.75 572 364.02 C573 365.29 574 366.59 575 367.91 C576 369.24 577 370.6 578 371.99 C579 373.38 580 374.79 581 376.25 C582 377.7 583 379.18 584 380.69 C585 382.2 586 383.75 587 385.32 C588 386.9 589 388.51 590 390.15 C591 391.79 592 393.46 593 395.17 C594 396.88 595 398.62 596 400.39 C597 402.16 598 403.96 599 405.8 C600 407.64 601 409.51 602 411.41 C603 413.32 604 415.26 605 417.23 C606 419.2 607 421.21 608 423.25 C609 425.29 610.5 428.43 611 429.47" stroke="#a508fa" stroke-width="0.7" fill="none"/>
<path d="M189.5 390.83 C189.75 390.55 190.48 389.67 191 389.15 C191.52 388.63 192.02 388.12 192.6 387.72 C193.18 387.32 193.77 387.05 194.5 386.74 C195.23 386.43 195.92 386.2 197 385.87 C198.08 385.54 199.5 385.2 201 384.75 C202.5 384.31 204.33 383.81 206 383.18 C207.67 382.55 209.33 381.78 211 380.99 C212.67 380.2 214.17 379.46 216 378.46 C217.83 377.47 220 376.2 222 375.03 C224 373.87 226 372.63 228 371.47 C230 370.32 232 369.2 234 368.12 C236 367.04 238 365.91 240 364.99 C242 364.07 244 363.31 246 362.6 C248 361.89 250 361.43 252 360.74 C254 360.06 256 359.28 258 358.47 C260 357.65 262 356.78 264 355.85 C266 354.93 268 353.96 270 352.89 C272 351.83 274 350.63 276 349.47 C278 348.3 280 347.1 282 345.92 C284 344.74 286 343.56 288 342.4 C290 341.25 292 340.05 294 338.99 C296 337.93 298 336.96 300 336.04 C302 335.11 304 334.25 306 333.45 C308 332.66 310 331.92 312 331.27 C314 330.61 316 330.09 318 329.53 C320 328.96 322 328.43 324 327.89 C326 327.34 328 326.78 330 326.24 C332 325.71 334 325.16 336 324.67 C338 324.18 340 323.74 342 323.3 C344 322.85 346 322.44 348 322 C350 321.56 352 321.1 354 320.66 C356 320.22 358 319.77 360 319.34 C362 318.92 364 318.5 366 318.12 C368 317.74 370 317.39 372 317.07 C374 316.76 376 316.49 378 316.24 C380 315.99 382 315.78 384 315.56 C386 315.35 388 315.15 390 314.97 C392 314.79 394 314.64 396 314.5 C398 314.35 400 314.23 402 314.1 C404 313.96 406 313.83 408 313.69 C410 313.55 412 313.39 414 313.25 C416 313.1 418 312.95 420 312.81 C422 312.66 424 312.52 426 312.39 C428 312.26 430 312.14 432 312.03 C434 311.93 436 311.85 438 311.76 C440 311.68 442 311.61 444 311.52 C446 311.44 448 311.38 450 311.26 C452 311.13 454 311 456 310.79 C458 310.57 460 310.1 462 309.97 C464 309.85 466 309.96 468 310.04 C470 310.12 472 310.31 474 310.46 C476 310.61 478 310.75 480 310.92 C482 311.09 484 311.26 486 311.47 C488 311.68 490 311.91 492 312.18 C494 312.46 496.67 312.89 498 313.1 C499.33 313.32 499.17 313.3 500 313.46 C500.83 313.63 502 313.85 503 314.07 C504 314.28 505 314.5 506 314.74 C507 314.98 508 315.24 509 315.5 C510 315.77 511 316.05 512 316.35 C513 316.65 514 316.96 515 317.29 C516 317.63 517 317.97 518 318.34 C519 318.7 520 319.08 521 319.48 C522 319.89 523 320.3 524 320.74 C525 321.18 526 321.64 527 322.12 C528 322.6 529 323.09 530 323.61 C531 324.13 532 324.67 533 325.24 C534 325.8 535 326.38 536 326.99 C537 327.6 538 328.23 539 328.88 C540 329.54 541 330.21 542 330.91 C543 331.62 544 332.34 545 333.09 C546 333.84 547 334.62 548 335.42 C549 336.22 550 337.05 551 337.9 C552 338.75 553 339.63 554 340.54 C555 341.45 556 342.38 557 343.34 C558 344.3 559 345.29 560 346.31 C561 347.33 562 348.37 563 349.45 C564 350.52 565 351.62 566 352.76 C567 353.89 568 355.05 569 356.24 C570 357.44 571 358.66 572 359.91 C573 361.16 574 362.45 575 363.76 C576 365.08 577 366.42 578 367.8 C579 369.18 580 370.58 581 372.02 C582 373.46 583 374.94 584 376.44 C585 377.95 586 379.48 587 381.05 C588 382.62 589 384.23 590 385.86 C591 387.5 592 389.17 593 390.87 C594 392.57 595 394.31 596 396.08 C597 397.85 598 399.65 599 401.49 C600 403.33 601 405.2 602 407.11 C603 409.02 604 410.96 605 412.94 C606 414.91 607 416.93 608 418.97 C609 421.02 610.5 424.18 611 425.22" stroke="#a508fa" stroke-width="0.7" fill="none"/>
<path d="M189.5 398.85 C189.75 398.59 190.48 397.76 191 397.27 C191.52 396.79 192.02 396.31 192.6 395.93 C193.18 395.55 193.77 395.29 194.5 394.98 C195.23 394.68 195.92 394.45 197 394.1 C198.08 393.74 199.5 393.34 201 392.86 C202.5 392.38 204.33 391.83 206 391.22 C207.67 390.61 209.33 389.92 211 389.2 C212.67 388.49 214.17 387.83 216 386.94 C217.83 386.04 220 384.89 222 383.83 C224 382.76 226 381.64 228 380.56 C230 379.48 232 378.39 234 377.34 C236 376.29 238 375.16 240 374.26 C242 373.36 244 372.62 246 371.93 C248 371.24 250 370.8 252 370.12 C254 369.45 256 368.69 258 367.89 C260 367.08 262 366.24 264 365.3 C266 364.37 268 363.39 270 362.29 C272 361.19 274 359.93 276 358.7 C278 357.48 280 356.2 282 354.94 C284 353.68 286 352.39 288 351.14 C290 349.89 292 348.58 294 347.42 C296 346.27 298 345.21 300 344.2 C302 343.19 304 342.25 306 341.36 C308 340.47 310 339.63 312 338.87 C314 338.1 316 337.44 318 336.76 C320 336.08 322 335.43 324 334.78 C326 334.12 328 333.48 330 332.84 C332 332.21 334 331.59 336 330.98 C338 330.37 340 329.79 342 329.2 C344 328.62 346 328.07 348 327.49 C350 326.91 352 326.31 354 325.73 C356 325.15 358 324.56 360 324 C362 323.44 364 322.88 366 322.36 C368 321.85 370 321.37 372 320.93 C374 320.49 376 320.09 378 319.71 C380 319.33 382 319 384 318.67 C386 318.34 388 318.02 390 317.73 C392 317.45 394 317.2 396 316.95 C398 316.71 400 316.5 402 316.26 C404 316.03 406 315.8 408 315.55 C410 315.31 412 315.05 414 314.79 C416 314.54 418 314.28 420 314.03 C422 313.79 424 313.54 426 313.32 C428 313.09 430 312.88 432 312.69 C434 312.5 436 312.35 438 312.19 C440 312.03 442 311.89 444 311.74 C446 311.59 448 311.48 450 311.29 C452 311.1 454 310.9 456 310.61 C458 310.31 460 309.74 462 309.52 C464 309.31 466 309.33 468 309.32 C470 309.31 472 309.42 474 309.48 C476 309.54 478 309.59 480 309.68 C482 309.76 484 309.85 486 309.98 C488 310.11 490 310.25 492 310.44 C494 310.64 496.67 310.96 498 311.12 C499.33 311.28 499.17 311.28 500 311.41 C500.83 311.54 502 311.72 503 311.89 C504 312.07 505 312.26 506 312.46 C507 312.66 508 312.87 509 313.11 C510 313.34 511 313.58 512 313.84 C513 314.11 514 314.38 515 314.68 C516 314.97 517 315.29 518 315.62 C519 315.95 520 316.29 521 316.66 C522 317.03 523 317.41 524 317.82 C525 318.22 526 318.65 527 319.1 C528 319.54 529 320.01 530 320.5 C531 320.99 532 321.5 533 322.03 C534 322.56 535 323.11 536 323.69 C537 324.27 538 324.87 539 325.5 C540 326.12 541 326.77 542 327.45 C543 328.12 544 328.82 545 329.54 C546 330.27 547 331.02 548 331.79 C549 332.57 550 333.37 551 334.2 C552 335.03 553 335.89 554 336.77 C555 337.65 556 338.56 557 339.5 C558 340.44 559 341.41 560 342.41 C561 343.41 562 344.43 563 345.49 C564 346.54 565 347.63 566 348.74 C567 349.86 568 351 569 352.18 C570 353.36 571 354.56 572 355.8 C573 357.04 574 358.31 575 359.61 C576 360.91 577 362.24 578 363.61 C579 364.98 580 366.37 581 367.8 C582 369.23 583 370.7 584 372.19 C585 373.69 586 375.22 587 376.78 C588 378.35 589 379.94 590 381.57 C591 383.21 592 384.87 593 386.57 C594 388.27 595 390 596 391.77 C597 393.54 598 395.35 599 397.19 C600 399.03 601 400.9 602 402.81 C603 404.72 604 406.67 605 408.65 C606 410.63 607 412.65 608 414.7 C609 416.75 610 416.85 611 420.97 C612 425.09 613.5 436.34 614 439.41" stroke="#a508fa" stroke-width="0.7" fill="none"/>
<path d="M189.5 405.63 C189.75 405.38 190.48 404.61 191 404.15 C191.52 403.69 192.02 403.24 192.6 402.87 C193.18 402.51 193.77 402.26 194.5 401.96 C195.23 401.66 195.92 401.43 197 401.06 C198.08 400.69 199.5 400.23 201 399.72 C202.5 399.21 204.33 398.61 206 398.01 C207.67 397.42 209.33 396.8 211 396.15 C212.67 395.5 214.17 394.92 216 394.11 C217.83 393.29 220 392.24 222 391.27 C224 390.29 226 389.27 228 388.25 C230 387.22 232 386.17 234 385.14 C236 384.12 238 382.99 240 382.1 C242 381.21 244 380.49 246 379.82 C248 379.14 250 378.72 252 378.06 C254 377.4 256 376.65 258 375.86 C260 375.06 262 374.23 264 373.3 C266 372.36 268 371.37 270 370.24 C272 369.11 274 367.8 276 366.52 C278 365.24 280 363.9 282 362.57 C284 361.24 286 359.87 288 358.54 C290 357.2 292 355.8 294 354.56 C296 353.32 298 352.19 300 351.1 C302 350.02 304 349.01 306 348.05 C308 347.08 310 346.16 312 345.3 C314 344.44 316 343.66 318 342.88 C320 342.1 322 341.35 324 340.61 C326 339.86 328 339.15 330 338.43 C332 337.72 334 337.03 336 336.32 C338 335.62 340 334.9 342 334.2 C344 333.5 346 332.83 348 332.13 C350 331.43 352 330.72 354 330.02 C356 329.32 358 328.62 360 327.94 C362 327.26 364 326.58 366 325.96 C368 325.33 370 324.74 372 324.19 C374 323.64 376 323.13 378 322.65 C380 322.16 382 321.73 384 321.3 C386 320.87 388 320.45 390 320.07 C392 319.7 394 319.36 396 319.03 C398 318.7 400 318.41 402 318.1 C404 317.78 406 317.46 408 317.13 C410 316.8 412 316.45 414 316.1 C416 315.76 418 315.41 420 315.08 C422 314.74 424 314.4 426 314.1 C428 313.8 430 313.5 432 313.25 C434 312.99 436 312.77 438 312.55 C440 312.33 442 312.13 444 311.93 C446 311.72 448 311.56 450 311.31 C452 311.06 454 310.8 456 310.43 C458 310.05 460 309.38 462 309.07 C464 308.77 466 308.7 468 308.6 C470 308.51 472 308.52 474 308.5 C476 308.47 478 308.44 480 308.44 C482 308.44 484 308.44 486 308.49 C488 308.53 490 308.6 492 308.71 C494 308.81 496.67 309.04 498 309.15 C499.33 309.25 499.17 309.25 500 309.35 C500.83 309.45 502 309.58 503 309.72 C504 309.86 505 310.01 506 310.17 C507 310.34 508 310.51 509 310.71 C510 310.9 511 311.11 512 311.34 C513 311.56 514 311.8 515 312.06 C516 312.32 517 312.6 518 312.89 C519 313.19 520 313.5 521 313.84 C522 314.17 523 314.52 524 314.89 C525 315.27 526 315.66 527 316.07 C528 316.49 529 316.92 530 317.38 C531 317.84 532 318.32 533 318.82 C534 319.32 535 319.84 536 320.39 C537 320.94 538 321.51 539 322.11 C540 322.71 541 323.33 542 323.98 C543 324.62 544 325.29 545 325.99 C546 326.69 547 327.41 548 328.17 C549 328.92 550 329.69 551 330.5 C552 331.3 553 332.14 554 333 C555 333.86 556 334.75 557 335.67 C558 336.59 559 337.53 560 338.51 C561 339.49 562 340.49 563 341.53 C564 342.57 565 343.63 566 344.73 C567 345.83 568 346.96 569 348.12 C570 349.28 571 350.47 572 351.69 C573 352.92 574 354.17 575 355.46 C576 356.75 577 358.07 578 359.42 C579 360.78 580 362.16 581 363.58 C582 365 583 366.46 584 367.95 C585 369.43 586 370.96 587 372.51 C588 374.07 589 375.66 590 377.29 C591 378.91 592 380.57 593 382.27 C594 383.97 595 385.7 596 387.47 C597 389.24 598 391.04 599 392.88 C600 394.72 601 396.6 602 398.51 C603 400.42 604 402.37 605 404.36 C606 406.34 607 408.37 608 410.43 C609 412.49 610 413.59 611 416.72 C612 419.85 613.5 427.13 614 429.21" stroke="#a508fa" stroke-width="0.7" fill="none"/>
<path d="M189.5 412 C189.75 411.77 190.48 411.04 191 410.61 C191.52 410.18 192.02 409.75 192.6 409.4 C193.18 409.05 193.77 408.81 194.5 408.51 C195.23 408.21 195.92 407.99 197 407.6 C198.08 407.21 199.5 406.7 201 406.16 C202.5 405.63 204.33 404.98 206 404.4 C207.67 403.82 209.33 403.27 211 402.68 C212.67 402.09 214.17 401.58 216 400.84 C217.83 400.1 220 399.15 222 398.25 C224 397.36 226 396.43 228 395.47 C230 394.5 232 393.47 234 392.47 C236 391.47 238 390.34 240 389.46 C242 388.59 244 387.89 246 387.23 C248 386.57 250 386.16 252 385.52 C254 384.87 256 384.13 258 383.34 C260 382.56 262 381.74 264 380.81 C266 379.87 268 378.86 270 377.71 C272 376.55 274 375.19 276 373.86 C278 372.53 280 371.13 282 369.74 C284 368.34 286 366.9 288 365.49 C290 364.07 292 362.58 294 361.26 C296 359.95 298 358.75 300 357.59 C302 356.43 304 355.37 306 354.33 C308 353.29 310 352.29 312 351.34 C314 350.39 316 349.51 318 348.63 C320 347.76 322 346.91 324 346.08 C326 345.26 328 344.47 330 343.68 C332 342.89 334 342.14 336 341.34 C338 340.54 340 339.71 342 338.9 C344 338.09 346 337.3 348 336.49 C350 335.68 352 334.86 354 334.05 C356 333.24 358 332.43 360 331.64 C362 330.85 364 330.07 366 329.34 C368 328.6 370 327.91 372 327.25 C374 326.6 376 325.98 378 325.4 C380 324.82 382 324.29 384 323.76 C386 323.24 388 322.73 390 322.27 C392 321.81 394 321.39 396 320.99 C398 320.58 400 320.21 402 319.82 C404 319.42 406 319.03 408 318.61 C410 318.2 412 317.76 414 317.33 C416 316.91 418 316.47 420 316.05 C422 315.64 424 315.22 426 314.84 C428 314.46 430 314.09 432 313.77 C434 313.44 436 313.16 438 312.89 C440 312.61 442 312.36 444 312.1 C446 311.84 448 311.65 450 311.34 C452 311.03 454 310.7 456 310.25 C458 309.79 460 309.02 462 308.62 C464 308.23 466 308.07 468 307.89 C470 307.7 472 307.63 474 307.52 C476 307.4 478 307.28 480 307.2 C482 307.11 484 307.03 486 307 C488 306.96 490 306.94 492 306.97 C494 306.99 496.67 307.11 498 307.17 C499.33 307.22 499.17 307.23 500 307.29 C500.83 307.36 502 307.45 503 307.55 C504 307.65 505 307.76 506 307.88 C507 308.01 508 308.15 509 308.31 C510 308.47 511 308.64 512 308.83 C513 309.02 514 309.22 515 309.45 C516 309.67 517 309.91 518 310.17 C519 310.43 520 310.71 521 311.01 C522 311.31 523 311.63 524 311.97 C525 312.31 526 312.67 527 313.05 C528 313.43 529 313.84 530 314.26 C531 314.69 532 315.14 533 315.61 C534 316.08 535 316.57 536 317.09 C537 317.61 538 318.16 539 318.73 C540 319.29 541 319.89 542 320.51 C543 321.13 544 321.77 545 322.44 C546 323.11 547 323.81 548 324.54 C549 325.26 550 326.02 551 326.8 C552 327.58 553 328.39 554 329.23 C555 330.07 556 330.93 557 331.83 C558 332.73 559 333.65 560 334.61 C561 335.57 562 336.55 563 337.57 C564 338.59 565 339.64 566 340.72 C567 341.8 568 342.91 569 344.05 C570 345.2 571 346.37 572 347.58 C573 348.79 574 350.03 575 351.31 C576 352.58 577 353.89 578 355.23 C579 356.58 580 357.95 581 359.36 C582 360.77 583 362.22 584 363.7 C585 365.18 586 366.69 587 368.24 C588 369.79 589 371.38 590 373 C591 374.62 592 376.28 593 377.97 C594 379.67 595 381.39 596 383.16 C597 384.93 598 386.73 599 388.57 C600 390.41 601 392.29 602 394.21 C603 396.12 604 398.08 605 400.07 C606 402.06 607 404.09 608 406.15 C609 408.22 610 410.32 611 412.47 C612 414.61 613 416.8 614 419.02 C615 421.24 616.5 424.67 617 425.8" stroke="#a508fa" stroke-width="0.7" fill="none"/>
</g>
<text x="536.8" y="101.6" font-size="16.7" fill="#4632b4">IceCube</text>
<text x="617.3" y="140.8" font-size="16.7" fill="#f50f7a">ARIANNA (5 yrs)</text>
<text x="617.1" y="245.4" font-size="16.7" fill="#2b0408">GRAND (3 yrs)</text>
<text x="210.3" y="49.5" font-size="20">mixed composition</text>
<path d="M206.5 69.45H244.8" stroke="#0aa5cc" stroke-width="1.35"/>
<path d="M206.5 86.7H244.8" stroke="#a508fa" stroke-width="1.35"/>
<text x="253.3" y="73.6" font-size="15">GRB (as main UHECR sources)</text>
<text x="253.3" y="89.8" font-size="15">non evol. (as main UHECR sources)</text>
<text x="247.7" y="341.9" font-size="12">2.5</text>
<text x="229" y="399.8" font-size="12"><tspan font-family="&quot;Liberation Serif&quot;, serif" font-size="12.5">&#946;</tspan><tspan x="238.5">=</tspan><tspan x="248.9">2.0</tspan></text>
<path d="M224.3 928.5v-3.9M224.3 539.5v3.9M244.66 928.5v-3.9M244.66 539.5v3.9M259.1 928.5v-3.9M259.1 539.5v3.9M270.3 928.5v-3.9M270.3 539.5v3.9M279.45 928.5v-3.9M279.45 539.5v3.9M287.19 928.5v-3.9M287.19 539.5v3.9M293.9 928.5v-3.9M293.9 539.5v3.9M299.81 928.5v-3.9M299.81 539.5v3.9M305.1 928.5v-7.8M305.1 539.5v7.8M339.9 928.5v-3.9M339.9 539.5v3.9M360.26 928.5v-3.9M360.26 539.5v3.9M374.7 928.5v-3.9M374.7 539.5v3.9M385.9 928.5v-3.9M385.9 539.5v3.9M395.05 928.5v-3.9M395.05 539.5v3.9M402.79 928.5v-3.9M402.79 539.5v3.9M409.5 928.5v-3.9M409.5 539.5v3.9M415.41 928.5v-3.9M415.41 539.5v3.9M420.7 928.5v-7.8M420.7 539.5v7.8M455.5 928.5v-3.9M455.5 539.5v3.9M475.86 928.5v-3.9M475.86 539.5v3.9M490.3 928.5v-3.9M490.3 539.5v3.9M501.5 928.5v-3.9M501.5 539.5v3.9M510.65 928.5v-3.9M510.65 539.5v3.9M518.39 928.5v-3.9M518.39 539.5v3.9M525.1 928.5v-3.9M525.1 539.5v3.9M531.01 928.5v-3.9M531.01 539.5v3.9M536.3 928.5v-7.8M536.3 539.5v7.8M571.1 928.5v-3.9M571.1 539.5v3.9M591.46 928.5v-3.9M591.46 539.5v3.9M605.9 928.5v-3.9M605.9 539.5v3.9M617.1 928.5v-3.9M617.1 539.5v3.9M626.25 928.5v-3.9M626.25 539.5v3.9M633.99 928.5v-3.9M633.99 539.5v3.9M640.7 928.5v-3.9M640.7 539.5v3.9M646.61 928.5v-3.9M646.61 539.5v3.9M651.9 928.5v-7.8M651.9 539.5v7.8M686.7 928.5v-3.9M686.7 539.5v3.9M707.06 928.5v-3.9M707.06 539.5v3.9M721.5 928.5v-3.9M721.5 539.5v3.9M732.7 928.5v-3.9M732.7 539.5v3.9M741.85 928.5v-3.9M741.85 539.5v3.9M749.59 928.5v-3.9M749.59 539.5v3.9M756.3 928.5v-3.9M756.3 539.5v3.9M762.21 928.5v-3.9M762.21 539.5v3.9M189.5 903.59h5.8M767.5 903.59h-5.8M189.5 889.02h5.8M767.5 889.02h-5.8M189.5 878.68h5.8M767.5 878.68h-5.8M189.5 870.66h5.8M767.5 870.66h-5.8M189.5 864.11h5.8M767.5 864.11h-5.8M189.5 858.57h5.8M767.5 858.57h-5.8M189.5 853.77h5.8M767.5 853.77h-5.8M189.5 849.54h5.8M767.5 849.54h-5.8M189.5 845.75h11.6M767.5 845.75h-11.6M189.5 820.84h5.8M767.5 820.84h-5.8M189.5 806.27h5.8M767.5 806.27h-5.8M189.5 795.93h5.8M767.5 795.93h-5.8M189.5 787.91h5.8M767.5 787.91h-5.8M189.5 781.36h5.8M767.5 781.36h-5.8M189.5 775.82h5.8M767.5 775.82h-5.8M189.5 771.02h5.8M767.5 771.02h-5.8M189.5 766.79h5.8M767.5 766.79h-5.8M189.5 763h11.6M767.5 763h-11.6M189.5 738.09h5.8M767.5 738.09h-5.8M189.5 723.52h5.8M767.5 723.52h-5.8M189.5 713.18h5.8M767.5 713.18h-5.8M189.5 705.16h5.8M767.5 705.16h-5.8M189.5 698.61h5.8M767.5 698.61h-5.8M189.5 693.07h5.8M767.5 693.07h-5.8M189.5 688.27h5.8M767.5 688.27h-5.8M189.5 684.04h5.8M767.5 684.04h-5.8M189.5 680.25h11.6M767.5 680.25h-11.6M189.5 655.34h5.8M767.5 655.34h-5.8M189.5 640.77h5.8M767.5 640.77h-5.8M189.5 630.43h5.8M767.5 630.43h-5.8M189.5 622.41h5.8M767.5 622.41h-5.8M189.5 615.86h5.8M767.5 615.86h-5.8M189.5 610.32h5.8M767.5 610.32h-5.8M189.5 605.52h5.8M767.5 605.52h-5.8M189.5 601.29h5.8M767.5 601.29h-5.8M189.5 597.5h11.6M767.5 597.5h-11.6M189.5 572.59h5.8M767.5 572.59h-5.8M189.5 558.02h5.8M767.5 558.02h-5.8M189.5 547.68h5.8M767.5 547.68h-5.8" stroke="#000" stroke-width="1.6" fill="none"/>
<rect x="189.5" y="539.5" width="578" height="389" fill="none" stroke="#000" stroke-width="1.8" stroke-linejoin="round"/>
<text transform="translate(181.7 607.8) scale(1 1.0005)" text-anchor="end" font-size="30">100.00</text>
<text transform="translate(181.7 690.55) scale(1 1.0005)" text-anchor="end" font-size="30">10.00</text>
<text transform="translate(181.7 773.3) scale(1 1.0005)" text-anchor="end" font-size="30">1.00</text>
<text transform="translate(181.7 856.05) scale(1 1.0005)" text-anchor="end" font-size="30">0.10</text>
<text transform="translate(181.7 929) scale(1 1.0005)" text-anchor="end" font-size="30">0.01</text>
<text transform="translate(189.8 966.6) scale(1 1.0005)" text-anchor="middle" font-size="30">10<tspan font-size="18" dy="-14">15</tspan></text>
<text transform="translate(305.4 966.6) scale(1 1.0005)" text-anchor="middle" font-size="30">10<tspan font-size="18" dy="-14">16</tspan></text>
<text transform="translate(421 966.6) scale(1 1.0005)" text-anchor="middle" font-size="30">10<tspan font-size="18" dy="-14">17</tspan></text>
<text transform="translate(536.6 966.6) scale(1 1.0005)" text-anchor="middle" font-size="30">10<tspan font-size="18" dy="-14">18</tspan></text>
<text transform="translate(652.2 966.6) scale(1 1.0005)" text-anchor="middle" font-size="30">10<tspan font-size="18" dy="-14">19</tspan></text>
<text transform="translate(767.8 966.6) scale(1 1.0005)" text-anchor="middle" font-size="30">10<tspan font-size="18" dy="-14">20</tspan></text>
<text transform="translate(478.7 998.2) scale(1 1.0005)" text-anchor="middle" font-size="30">E (eV)</text>
<text transform="translate(64.8 901.5) rotate(-90) scale(1 1.0005)" font-size="30">E<tspan font-size="18" dy="-14">2</tspan><tspan dy="14" dx="0.3">J(E) [eV.cm</tspan><tspan font-size="18" dy="-14">-2</tspan><tspan dy="14" dx="1.5">.sec</tspan><tspan font-size="18" dy="-14">-1</tspan><tspan dy="14" dx="1.2">.sr</tspan><tspan font-size="18" dy="-14">-1</tspan><tspan dy="14" dx="1">]</tspan></text>
<path d="M273.7 697.1 L288.9 693.5 L307.5 691.1 L332.3 684.3 L361.2 677.5 L380.5 674.1 L402.2 671.6 L423.9 666.5 L443.1 663.9 L464.1 659.3 L485.8 654.1 L495.4 653.4 L512 654.7 L536.4 645.9 L560.5 639.4 L584.6 631.5 L607.5 622.6 L625 619.4 L652.1 609.4 L679.9 598.7 L694.9 591.2 L716.3 578.3 L746.2 562.7 L767.5 549.7" stroke="#4632b4" stroke-width="6.4" fill="none" stroke-linejoin="round"/>
<path d="M288.4 668.9 L308.2 682.1 L332.3 690.3 L356.4 698 L380.5 705.7 L414.2 714.9 L440 720.6 L466.5 726.2 L490.6 728.6 L528 728.6 L555.7 724.3 L584.6 719.4 L608.7 712.7 L632 707.3 L656.4 701.3 L684.2 692.2 L712 682.6 L739.8 671.4 L767.5 660.3" stroke="#f50f7a" stroke-width="6.4" fill="none" stroke-linejoin="round"/>
<path d="M422 852.6 L455.8 868 L466.6 874 L476.3 876.7 L494.3 874.7 L511.2 871.1 L535.3 866.3 L554.6 858.3 L573.9 849.8 L583.6 844.7 L620 825.5 L644.3 812.5 L680 793.6 L700 782.8 L729.7 765.3 L767.5 742.1" stroke="#2b0408" stroke-width="6.4" fill="none" stroke-linejoin="round"/>
<text x="536.8" y="615.5" font-size="16.7" fill="#4632b4">IceCube</text>
<text x="617.3" y="655.3" font-size="16.7" fill="#f50f7a">ARIANNA (5 yrs)</text>
<text x="617.1" y="759.9" font-size="16.7" fill="#2b0408">GRAND (3 yrs)</text>
<g clip-path="url(#c2)">
<path d="M189.5 907.5 L206.7 891.58 L229.82 871.63 L252.94 855.32 L276.06 843.22 L299.18 834.55 L303.18 833.31 L307.18 832.19 L311.18 831.19 L315.18 830.28 L319.18 829.44 L323.18 828.62 L327.18 827.8 L331.18 826.94 L335.18 826.04 L339.18 825.17 L343.18 824.31 L347.18 823.43 L351.18 822.51 L355.18 821.52 L359.18 820.38 L363.18 819.04 L367.18 817.48 L371.18 815.82 L375.18 814.37 L379.18 812.29 L383.18 809.9 L387.18 807.49 L391.18 805.03 L395.18 802.49 L399.18 799.83 L403.18 797 L407.18 793.91 L411.18 790.54 L415.18 786.96 L419.18 783.25 L423.18 779.48 L427.18 775.73 L431.18 772.08 L435.18 768.42 L439.18 764.72 L443.18 761.02 L447.18 757.37 L451.18 753.81 L455.18 750.4 L459.18 747.11 L463.18 743.88 L467.18 740.74 L471.18 737.72 L475.18 734.85 L479.18 732.17 L483.18 729.71 L487.18 727.46 L491.18 725.39 L495.18 723.46 L499.18 721.67 L503.18 720 L507.18 718.45 L511.18 717.09 L515.18 715.96 L519.18 715.03 L523.18 714.24 L527.18 713.54 L531.18 712.97 L535.18 712.64 L539.18 712.56 L543.18 712.64 L547.18 712.9 L551.18 713.36 L555.18 714.02 L559.18 714.86 L563.18 715.86 L567.18 717 L571.18 718.27 L575.18 719.63 L579.18 721.09 L583.18 722.61 L587.18 724.21 L591.18 725.89 L595.18 727.7 L599.18 729.69 L603.18 731.95 L607.18 734.66 L611.18 737.61 L615.18 740.72 L619.18 743.97 L623.18 747.36 L627.18 750.9 L631.18 754.62 L635.18 758.48 L639.18 762.49 L643.18 766.68 L647.18 771.09 L651.18 775.9 L655.18 781.3 L659.18 787.01 L663.18 792.62 L667.18 798.22 L671.18 803.85 L675.18 809.55 L679.18 815.35 L683.18 821.37 L687.18 827.78 L691.18 834.65 L695.18 841.82 L699.18 849.45 L703.18 857.2 L707.18 864.96 L711.18 872.79 L715.18 880.74 L719.18 888.9 L723.18 897.27 L727.18 905.96 L731.18 915.25 L735.18 925.06 L739.18 934.78 L740.5 938" stroke="#000" stroke-width="2.3" fill="none" stroke-dasharray="8.2 3.8 2.0 3.8"/>
<path d="M186 935 L206.7 915.59 L229.82 894.95 L252.94 878.14 L276.06 864.02 L299.18 853.37 L303.18 851.62 L307.18 849.86 L311.18 848.11 L315.18 846.37 L319.18 844.65 L323.18 842.96 L327.18 841.29 L331.18 839.65 L335.18 838.06 L339.18 836.54 L343.18 835.05 L347.18 833.58 L351.18 832.1 L355.18 830.57 L359.18 828.93 L363.18 827.18 L367.18 825.3 L371.18 823.31 L375.18 821.29 L379.18 819.16 L383.18 816.94 L387.18 814.64 L391.18 812.23 L395.18 809.76 L399.18 807.3 L403.18 804.87 L407.18 802.48 L411.18 800.08 L415.18 797.64 L419.18 795.11 L423.18 792.5 L427.18 789.84 L431.18 787.15 L435.18 784.45 L439.18 781.7 L443.18 778.95 L447.18 776.24 L451.18 773.6 L455.18 770.99 L459.18 768.44 L463.18 765.99 L467.18 763.6 L471.18 761.25 L475.18 759.02 L479.18 756.97 L483.18 755.08 L487.18 753.25 L491.18 751.49 L495.18 749.8 L499.18 748.19 L503.18 746.67 L507.18 745.27 L511.18 743.99 L515.18 742.82 L519.18 741.73 L523.18 740.74 L527.18 739.83 L531.18 739.02 L535.18 738.31 L539.18 737.72 L543.18 737.24 L547.18 736.86 L551.18 736.58 L555.18 736.38 L559.18 736.32 L563.18 736.42 L567.18 736.68 L571.18 737.07 L575.18 737.58 L579.18 738.32 L583.18 739.38 L587.18 740.64 L591.18 741.98 L595.18 743.45 L599.18 745.1 L603.18 747.03 L607.18 749.23 L611.18 751.65 L615.18 754.39 L619.18 757.42 L623.18 760.71 L627.18 764.19 L631.18 767.8 L635.18 771.51 L639.18 775.3 L643.18 779.17 L647.18 783.18 L651.18 787.43 L655.18 792.23 L659.18 797.67 L663.18 803.29 L667.18 809.24 L671.18 815.47 L675.18 821.99 L679.18 828.82 L683.18 835.94 L687.18 843.29 L691.18 850.87 L695.18 858.71 L699.18 866.74 L703.18 874.91 L707.18 883.24 L711.18 891.72 L715.18 900.29 L719.18 908.95 L723.18 917.74 L727.18 926.66 L731.18 936 L732 938" stroke="#a508fa" stroke-width="4" fill="none" stroke-linejoin="round"/>
<path d="M183.58 866.6 L206.7 847.1 L229.82 829.56 L252.94 816.08 L276.06 805.82 L299.18 797.82 L303.18 796.45 L307.18 795.06 L311.18 793.68 L315.18 792.31 L319.18 790.92 L323.18 789.51 L327.18 788.06 L331.18 786.54 L335.18 784.96 L339.18 783.34 L343.18 781.67 L347.18 779.95 L351.18 778.18 L355.18 776.33 L359.18 774.36 L363.18 772.23 L367.18 769.85 L371.18 767.2 L375.18 764.32 L379.18 761.09 L383.18 757.71 L387.18 754.38 L391.18 751.04 L395.18 747.67 L399.18 744.29 L403.18 740.91 L407.18 737.53 L411.18 734.13 L415.18 730.74 L419.18 727.33 L423.18 723.85 L427.18 720.39 L431.18 717.1 L435.18 714.08 L439.18 711.26 L443.18 708.58 L447.18 706 L451.18 703.52 L455.18 701.29 L459.18 699.36 L463.18 697.45 L467.18 695.56 L471.18 693.75 L475.18 692.07 L479.18 690.57 L483.18 689.31 L487.18 688.24 L491.18 687.31 L495.18 686.47 L499.18 685.71 L503.18 685.02 L507.18 684.4 L511.18 683.92 L515.18 683.7 L519.18 683.74 L523.18 683.83 L527.18 683.9 L531.18 684.03 L535.18 684.32 L539.18 684.82 L543.18 685.56 L547.18 686.44 L551.18 687.43 L555.18 688.55 L559.18 689.82 L563.18 691.26 L567.18 692.89 L571.18 694.68 L575.18 696.59 L579.18 698.63 L583.18 700.79 L587.18 703.08 L591.18 705.54 L595.18 708.17 L599.18 711.01 L603.18 714.03 L607.18 717.26 L611.18 720.7 L615.18 724.37 L619.18 728.25 L623.18 732.35 L627.18 736.67 L631.18 741.21 L635.18 745.96 L639.18 750.91 L643.18 756.04 L647.18 761.34 L651.18 766.77 L655.18 772.34 L659.18 778.08 L663.18 784.05 L667.18 790.28 L671.18 796.83 L675.18 803.74 L679.18 811.01 L683.18 818.57 L687.18 826.4 L691.18 834.46 L695.18 842.73 L699.18 851.22 L703.18 860.12 L707.18 869.47 L711.18 879.14 L715.18 888.99 L719.18 898.77 L723.18 908.45 L727.18 918.27 L731.18 928.14 L735.18 937.95 L735.2 938" stroke="#0aa5cc" stroke-width="4" fill="none" stroke-linejoin="round"/>
</g>
<text x="209.7" y="563.7" font-size="20">pure proton sources</text>
<path d="M206.5 582.2H244.8" stroke="#0aa5cc" stroke-width="3.4"/>
<path d="M206.5 597.3H244.8" stroke="#a508fa" stroke-width="3.4"/>
<path d="M206.5 610.3H244.8" stroke="#000" stroke-width="2.3" stroke-dasharray="8.2 3.8 2.0 3.8"/>
<text x="252" y="584.8" font-size="13.4">GRB (as main UHECR sources)</text>
<text x="252" y="600" font-size="13.4">non evol. (as main UHECR sources)</text>
<text x="252" y="615.4" font-size="13.4">FR-II (contribution to UHECRs: 5% at 10<tspan font-size="8.3" dy="-5.6">19</tspan><tspan dy="5.6">eV)</tspan></text>
</svg></body></html>
